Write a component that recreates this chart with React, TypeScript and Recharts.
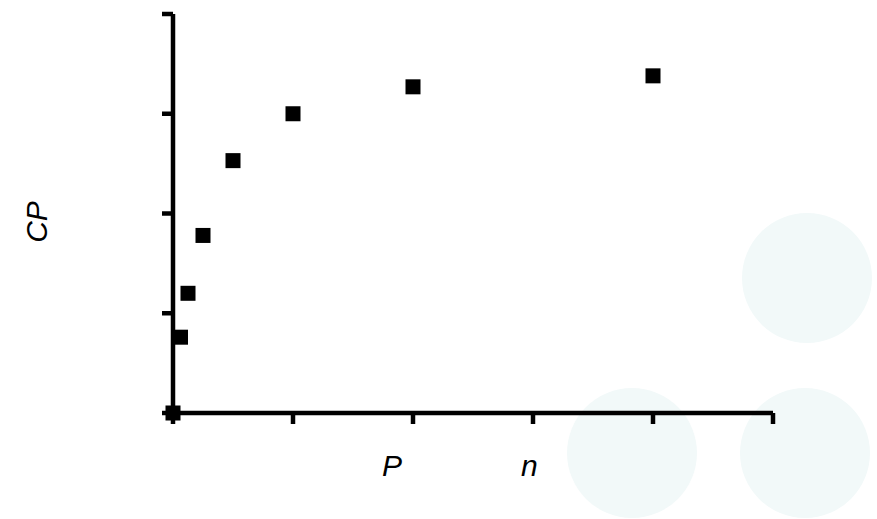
import { ScatterChart, Scatter, XAxis, YAxis } from 'recharts';

// concentration steps and measured response
const xValues = [0, 0.0625, 0.125, 0.25, 0.5, 1, 2, 4];
const yValues = [0, 0.76, 1.2, 1.78, 2.53, 3.0, 3.27, 3.38];
const xTicks = [0, 1, 2, 3, 4, 5];
const yTicks = [0, 1, 2, 3, 4];

const points = xValues.map((x, i) => ({ x, y: yValues[i] }));

const SquareMark = (props: any) => {
  const { cx, cy } = props;
  if (cx == null || cy == null) return null;
  return <rect x={cx - 7.5} y={cy - 7.5} width={15} height={15} fill="#000" />;
};

const circleStyle = (left: number, top: number) => ({
  position: 'absolute' as const,
  left: left - 65,
  top: top - 65,
  width: 130,
  height: 130,
  borderRadius: '50%',
  background: '#f2f9f9',
});

const labelStyle = {
  position: 'absolute' as const,
  fontFamily: '"Liberation Sans", Arial, sans-serif',
  fontStyle: 'italic',
  fontSize: 30,
  color: '#000',
  lineHeight: 1,
};

const blank = () => '';

export default function App() {
  return (
    <div style={{ position: 'absolute', left: 0, top: 0, width: 877, height: 519, background: '#fff', overflow: 'hidden' }}>
      <div style={circleStyle(807, 278)} />
      <div style={circleStyle(632, 453)} />
      <div style={circleStyle(805, 453)} />
      <div style={{ position: 'absolute', left: 0, top: 0 }}>
        <ScatterChart width={877} height={519} margin={{ top: 14, right: 104, bottom: 76, left: 113 }}>
          <XAxis
            type="number"
            dataKey="x"
            domain={[0, 5]}
            ticks={xTicks}
            tickFormatter={blank}
            height={30}
            axisLine={{ stroke: '#000', strokeWidth: 4.5 }}
            tickLine={{ stroke: '#000', strokeWidth: 4.5 }}
            tickSize={11}
          />
          <YAxis
            type="number"
            dataKey="y"
            domain={[0, 4]}
            ticks={yTicks}
            tickFormatter={blank}
            width={60}
            axisLine={{ stroke: '#000', strokeWidth: 4.5 }}
            tickLine={{ stroke: '#000', strokeWidth: 4.5 }}
            tickSize={11}
          />
          <Scatter data={points} shape={SquareMark} fill="#000" isAnimationActive={false} />
        </ScatterChart>
      </div>
      <div style={{ ...labelStyle, left: 382, top: 451 }}>P</div>
      <div style={{ ...labelStyle, left: 521, top: 451 }}>n</div>
      <div
        style={{
          ...labelStyle,
          left: 37,
          top: 222,
          transform: 'translate(-50%, -50%) rotate(-90deg)',
        }}
      >
        CP
      </div>
    </div>
  );
}
